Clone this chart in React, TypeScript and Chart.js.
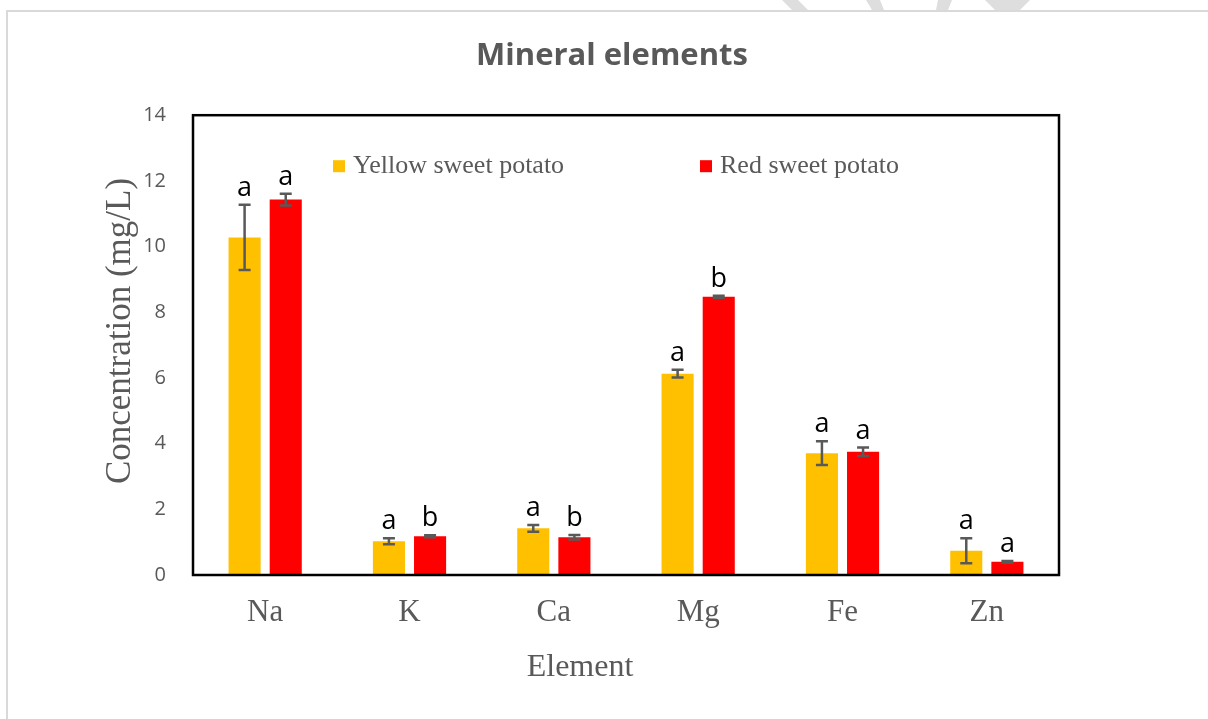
import React, { useEffect, useRef } from 'react';
import { Chart, registerables } from 'chart.js';

Chart.register(...registerables);

const categories = ['Na', 'K', 'Ca', 'Mg', 'Fe', 'Zn'];
const seriesNames = ['Yellow sweet potato', 'Red sweet potato'];
const yellowValues = [10.28, 1.03, 1.42, 6.13, 3.71, 0.74];
const yellowErrors = [0.99, 0.09, 0.1, 0.12, 0.36, 0.38];
const redValues = [11.43, 1.18, 1.15, 8.47, 3.75, 0.4];
const redErrors = [0.18, 0.03, 0.07, 0.03, 0.13, 0.03];
const yellowLetters = ['a', 'a', 'a', 'a', 'a', 'a'];
const redLetters = ['a', 'b', 'b', 'b', 'a', 'a'];
const yMin = 0;
const yMax = 14;
const yStep = 2;

const YELLOW = '#FFC000';
const RED = '#FF0000';
const GRAY = '#595959';

export default function App() {
  const ref = useRef<HTMLCanvasElement>(null);

  useEffect(() => {
    const canvas = ref.current;
    if (!canvas) return;

    const overlay = {
      id: 'overlay',
      afterDatasetsDraw(chart: any) {
        const ctx = chart.ctx;
        const ys = chart.scales.y;
        const groups: [number[], number[], string[]][] = [
          [yellowValues, yellowErrors, yellowLetters],
          [redValues, redErrors, redLetters],
        ];
        ctx.save();
        groups.forEach(([vals, errs, letters], di) => {
          const meta = chart.getDatasetMeta(di);
          meta.data.forEach((bar: any, i: number) => {
            const x = bar.x;
            const top = ys.getPixelForValue(vals[i] + errs[i]);
            const bot = ys.getPixelForValue(vals[i] - errs[i]);
            ctx.strokeStyle = GRAY;
            ctx.lineWidth = 2.5;
            ctx.beginPath();
            ctx.moveTo(x, top);
            ctx.lineTo(x, bot);
            ctx.moveTo(x - 6, top);
            ctx.lineTo(x + 6, top);
            ctx.moveTo(x - 6, bot);
            ctx.lineTo(x + 6, bot);
            ctx.stroke();
            ctx.fillStyle = '#000';
            ctx.font = '27px "Open Sans"';
            ctx.textAlign = 'center';
            ctx.textBaseline = 'alphabetic';
            ctx.fillText(letters[i], x, top - 9);
          });
        });
        ctx.restore();
      },
      afterDraw(chart: any) {
        const ctx = chart.ctx;
        const a = chart.chartArea;
        ctx.save();
        // plot border
        ctx.strokeStyle = '#000';
        ctx.lineWidth = 2.5;
        ctx.strokeRect(a.left, a.top, a.right - a.left, a.bottom - a.top);

        // legend
        const legendY = a.top + 51;
        const items = [
          { x: a.left + 140, color: YELLOW, text: seriesNames[0] },
          { x: a.left + 507, color: RED, text: seriesNames[1] },
        ];
        ctx.font = '26px "Liberation Serif"';
        ctx.textAlign = 'left';
        ctx.textBaseline = 'middle';
        items.forEach((it) => {
          ctx.fillStyle = it.color;
          ctx.fillRect(it.x, legendY - 6, 12, 12);
          ctx.fillStyle = GRAY;
          ctx.fillText(it.text, it.x + 20, legendY);
        });

        // axis titles
        ctx.fillStyle = GRAY;
        ctx.font = '32px "Liberation Serif"';
        ctx.textAlign = 'center';
        ctx.textBaseline = 'middle';
        ctx.fillText('Element', 580, 668);
        ctx.save();
        ctx.translate(121, 331);
        ctx.rotate(-Math.PI / 2);
        ctx.font = '35px "Liberation Serif"';
        ctx.fillText('Concentration (mg/L)', 0, 0);
        ctx.restore();

        // outer page frame
        ctx.strokeStyle = '#d9d9d9';
        ctx.lineWidth = 2;
        ctx.beginPath();
        ctx.moveTo(7, 719);
        ctx.lineTo(7, 11);
        ctx.lineTo(1208, 11);
        ctx.stroke();

        // faint watermark strokes at top
        ctx.fillStyle = '#dedede';
        const polys = [
          [[782, 0], [798, 0], [808, 10], [792, 10]],
          [[866, 0], [880, 0], [884, 10], [872, 10]],
          [[938, 0], [952, 0], [948, 10], [936, 10]],
          [[985, 0], [1030, 0], [1020, 10], [995, 10]],
        ];
        polys.forEach((p) => {
          ctx.beginPath();
          ctx.moveTo(p[0][0], p[0][1]);
          for (let k = 1; k < p.length; k++) ctx.lineTo(p[k][0], p[k][1]);
          ctx.closePath();
          ctx.fill();
        });
        ctx.restore();
      },
    };

    const chart = new Chart(canvas, {
      type: 'bar',
      data: {
        labels: categories,
        datasets: [
          {
            label: seriesNames[0],
            data: yellowValues,
            backgroundColor: YELLOW,
            borderWidth: 0,
            categoryPercentage: 0.57,
            barPercentage: 0.78,
            yAxisID: 'y',
          },
          {
            label: seriesNames[1],
            data: redValues,
            backgroundColor: RED,
            borderWidth: 0,
            categoryPercentage: 0.57,
            barPercentage: 0.78,
            yAxisID: 'y',
          },
        ],
      },
      options: {
        responsive: true,
        maintainAspectRatio: false,
        animation: false,
        layout: { padding: { left: 100, right: 84, top: 0, bottom: 0 } },
        plugins: {
          legend: { display: false },
          tooltip: { enabled: false },
          title: {
            display: true,
            text: 'Mineral elements',
            color: GRAY,
            font: { family: '"Open Sans"', size: 31, weight: 'bold', lineHeight: 1.2 },
            padding: { top: 38, bottom: 40 },
          },
        },
        scales: {
          x: {
            grid: { display: false, drawTicks: false },
            border: { display: false },
            ticks: {
              color: GRAY,
              font: { family: '"Liberation Serif"', size: 31 },
              padding: 19,
            },
            afterFit(scale: any) {
              scale.height = 144;
            },
          },
          y: {
            position: 'left',
            min: yMin,
            max: yMax,
            grid: { display: false, drawTicks: false },
            border: { display: false },
            ticks: {
              stepSize: yStep,
              color: GRAY,
              font: { family: '"Open Sans"', size: 20 },
              padding: 27,
            },
            afterFit(scale: any) {
              scale.width = 93;
            },
          },
          y2: {
            position: 'right',
            min: yMin,
            max: yMax,
            grid: { display: false, drawTicks: false },
            border: { display: false },
            ticks: { display: false },
            afterFit(scale: any) {
              scale.width = 65;
            },
          },
        },
      },
      plugins: [overlay],
    });

    return () => chart.destroy();
  }, []);

  return (
    <div style={{ position: 'fixed', left: 0, top: 0, width: 1208, height: 719, background: '#fff' }}>
      <canvas ref={ref} />
    </div>
  );
}
